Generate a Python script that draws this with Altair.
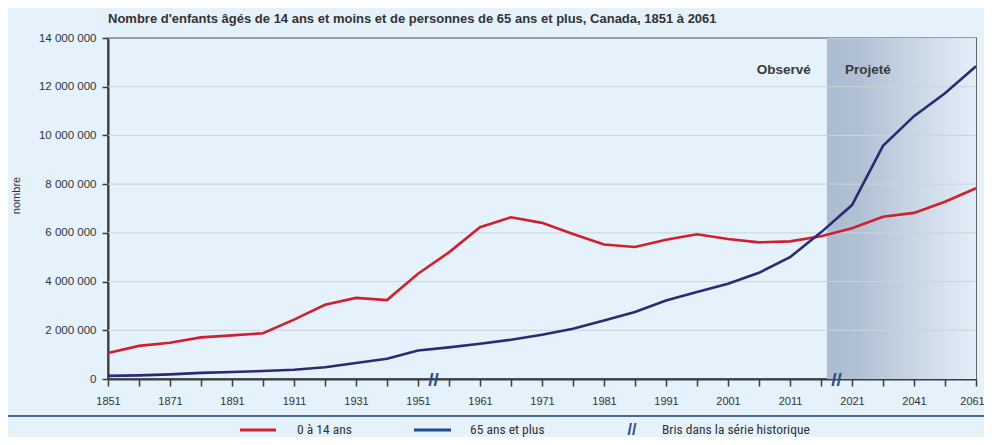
import altair as alt
import pandas as pd

# ---- data ----
years = ["1851", "1861", "1871", "1881", "1891", "1901", "1911", "1921", "1931", "1941",
         "1951", "1956", "1961", "1966", "1971", "1976", "1981", "1986", "1991", "1996",
         "2001", "2006", "2011", "2016", "2021", "2031", "2041", "2051", "2061"]
children_m = [1.07, 1.36, 1.49, 1.71, 1.79, 1.88, 2.44, 3.05, 3.33, 3.24,
              4.32, 5.20, 6.23, 6.64, 6.41, 5.95, 5.52, 5.42, 5.72, 5.94,
              5.75, 5.61, 5.65, 5.86, 6.19, 6.66, 6.82, 7.28, 7.83]
seniors_m = [0.13, 0.15, 0.19, 0.25, 0.29, 0.33, 0.38, 0.48, 0.66, 0.83,
             1.17, 1.30, 1.45, 1.61, 1.82, 2.06, 2.40, 2.75, 3.22, 3.57,
             3.91, 4.36, 5.00, 6.02, 7.14, 9.57, 10.79, 11.73, 12.84]
series_names = ["0 à 14 ans", "65 ans et plus"]
series_colors = ["#cf2030", "#2b2b73"]
y_ticks = [0, 2000000, 4000000, 6000000, 8000000, 10000000, 12000000, 14000000]
breaks_pos = [10.5, 23.5]          # positions of the "//" breaks (between categories)
projection_start = 23.19           # start of the projected period on the category axis
title_text = "Nombre d'enfants âgés de 14 ans et moins et de personnes de 65 ans et plus, Canada, 1851 à 2061"
legend_break_label = "Bris dans la série historique"

# ---- tables ----
rows = []
for i, yr in enumerate(years):
    rows.append({"idx": i, "year": yr, "value": children_m[i] * 1e6, "series": series_names[0]})
    rows.append({"idx": i, "year": yr, "value": seniors_m[i] * 1e6, "series": series_names[1]})
df = pd.DataFrame(rows)

W, H = 868, 341
LAST = len(years) - 1
FONT = "Liberation Sans, Arial, sans-serif"
NARROW = "Liberation Sans Narrow, Roboto Condensed, Liberation Sans, sans-serif"
TXT = "#333333"
AX = "#3c3c3c"

js_years = "[" + ",".join("'" + y + "'" for y in years) + "]"
xscale = alt.Scale(domain=[0, LAST], nice=False, zero=False)
xaxis = alt.Axis(
    values=list(range(len(years))),
    labelExpr=f"datum.value % 2 == 0 ? {js_years}[datum.value] : ''",
    labelOffset={"expr": f"datum.value == {LAST} ? -4 : 0"},
    title=None, grid=False, tickSize=7, tickWidth=1.5, tickColor=AX,
    domainColor=AX, domainWidth=2, labelFont=FONT, labelFontSize=11,
    labelColor=TXT, labelPadding=9, labelFlush=False, labelOverlap=False,
)
yscale = alt.Scale(domain=[0, 14000000], nice=False)
yaxis = alt.Axis(
    values=y_ticks,
    labelExpr="replace(replace(format(datum.value, ','), ',', ' '), ',', ' ')",
    title="nombre", titleX=-92, titleY=157, titleAngle=270, titleAlign="center",
    titleBaseline="middle", titleFont=FONT, titleFontSize=11, titleFontWeight="normal",
    titleColor=TXT, grid=False, tickSize=6, tickWidth=1.5, tickColor=AX,
    domainColor=AX, domainWidth=2, labelFont=FONT, labelFontSize=11.5,
    labelColor=TXT, labelPadding=6, labelFlush=False, labelOverlap=False,
)


def X(field):
    return alt.X(field, type="quantitative", scale=xscale, axis=xaxis)


def Y(field):
    return alt.Y(field, type="quantitative", scale=yscale, axis=yaxis)


# shaded projection zone
shade = alt.Chart(pd.DataFrame({"start": [projection_start], "end": [LAST]})).mark_rect(
    fill=alt.LinearGradient(
        gradient="linear",
        stops=[
            alt.GradientStop(color="#abbcd1", offset=0),
            alt.GradientStop(color="#b1c1d4", offset=0.22),
            alt.GradientStop(color="#cbd8e6", offset=0.62),
            alt.GradientStop(color="#e3eef9", offset=1),
        ],
        x1=0, x2=1, y1=0, y2=0,
    )
).encode(x=X("start"), x2="end", y=alt.value(0), y2=alt.value(H))

# gridlines
grid = alt.Chart(pd.DataFrame({"v": y_ticks[1:]})).mark_rule(
    color="#cad4dc", strokeWidth=1
).encode(y=Y("v"), x=alt.value(0), x2=alt.value(W))

lines = alt.Chart(df).mark_line(strokeWidth=2.6).encode(
    x=X("idx"), y=Y("value"),
    color=alt.Color("series:N", scale=alt.Scale(domain=series_names, range=series_colors), legend=None),
    order="idx:Q",
)

breaks = alt.Chart(pd.DataFrame({"p": breaks_pos, "t": ["//", "//"]})).mark_text(
    font=FONT, fontSize=19, fontWeight="bold", color="#2a4f86", baseline="middle", align="center", dy=1
).encode(x=X("p"), y=alt.value(H), text="t:N")

ptxt = pd.DataFrame({"p": [projection_start]})
observe = alt.Chart(ptxt).mark_text(
    text="Observé", font=FONT, fontSize=13.5, fontWeight="bold", color="#3a3a3a",
    align="right", baseline="middle", dx=-16
).encode(x=X("p"), y=alt.value(32))
projete = alt.Chart(ptxt).mark_text(
    text="Projeté", font=FONT, fontSize=13.5, fontWeight="bold", color="#3a3a3a",
    align="left", baseline="middle", dx=18
).encode(x=X("p"), y=alt.value(32))

# legend block (below the separator)
one = pd.DataFrame({"a": [0]})
LY = 392
sep = alt.Chart(one).mark_rule(color="#4a6a94", strokeWidth=2).encode(
    x=alt.value(-100), x2=alt.value(W + 8), y=alt.value(378))
sw1 = alt.Chart(one).mark_rule(color=series_colors[0], strokeWidth=3).encode(
    x=alt.value(132), x2=alt.value(168), y=alt.value(LY))
lb1 = alt.Chart(one).mark_text(text=series_names[0], font=NARROW, fontSize=13.5, color=TXT,
                                align="left", baseline="middle").encode(x=alt.value(189), y=alt.value(LY))
sw2 = alt.Chart(one).mark_rule(color="#1f4d8a", strokeWidth=3).encode(
    x=alt.value(306), x2=alt.value(343), y=alt.value(LY))
lb2 = alt.Chart(one).mark_text(text=series_names[1], font=NARROW, fontSize=13.5, color=TXT,
                                align="left", baseline="middle").encode(x=alt.value(362), y=alt.value(LY))
sw3 = alt.Chart(one).mark_text(text="//", font=FONT, fontSize=16, fontWeight="bold", color="#2a4f86",
                                align="center", baseline="middle").encode(x=alt.value(524), y=alt.value(LY))
lb3 = alt.Chart(one).mark_text(text=legend_break_label, font=NARROW, fontSize=13.5, color=TXT,
                                align="left", baseline="middle").encode(x=alt.value(554), y=alt.value(LY))

chart = alt.layer(
    shade, grid, lines, breaks, observe, projete, sep, sw1, lb1, sw2, lb2, sw3, lb3
).properties(
    width=W, height=H,
    title=alt.TitleParams(title_text, anchor="start", frame="group", font=FONT, fontSize=13,
                          fontWeight="bold", color=TXT, offset=6),
    autosize=alt.AutoSizeParams(type="none"),
    padding={"left": 100, "top": 30, "right": 8, "bottom": 58},
    background="#e5f1fb",
).configure_view(stroke=AX, strokeWidth=1.5)

chart.save("out.html", embed_options={"renderer": "svg", "actions": False})
